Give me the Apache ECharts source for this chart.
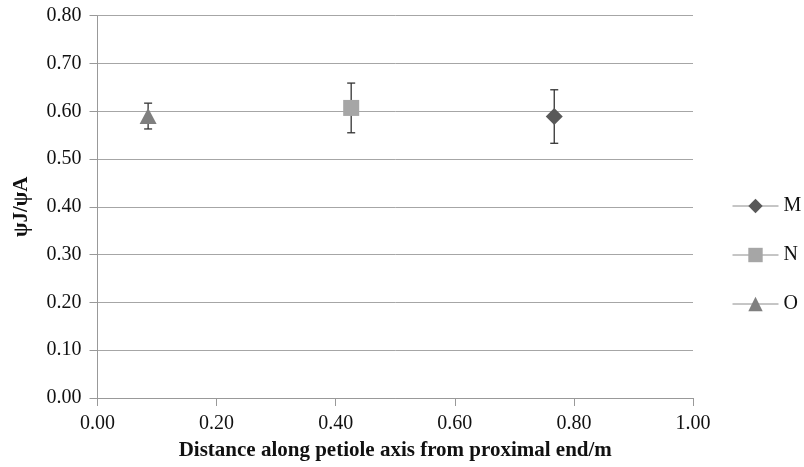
<!DOCTYPE html>
<html>
<head>
<meta charset="utf-8">
<script src="https://cdn.jsdelivr.net/npm/echarts@6/dist/echarts.min.js"></script>
<style>
  html, body { margin: 0; padding: 0; background: #fff; }
  #chart { width: 804px; height: 467px; }
</style>
</head>
<body>
<div id="chart"></div>
<script>
// series names, positions along petiole, ratio and error
var seriesNames = ['M', 'N', 'O'];
var xValues = [0.767, 0.426, 0.085];
var yValues = [0.589, 0.607, 0.590];
var yErrors = [0.056, 0.052, 0.027];
var symbols = ['diamond', 'rect', 'triangle'];
var colors = ['#595959', '#a6a6a6', '#7f7f7f'];
var symbolSizes = [[17, 17], [16, 16], [17, 16]];

var font = 'Liberation Serif';
var chart = echarts.init(document.getElementById('chart'));

// 误差线
function errorBar(value, err) {
    return {
        type: 'custom',
        silent: true,
        z: 1,
        data: [[value[0], value[1] - err, value[1] + err]],
        renderItem: function (params, api) {
            var lo = api.coord([api.value(0), api.value(1)]);
            var hi = api.coord([api.value(0), api.value(2)]);
            var w = 4;
            var st = { stroke: '#333', lineWidth: 1.3 };
            return {
                type: 'group',
                children: [
                    { type: 'line', shape: { x1: lo[0], y1: lo[1], x2: hi[0], y2: hi[1] }, style: st },
                    { type: 'line', shape: { x1: lo[0] - w, y1: lo[1], x2: lo[0] + w, y2: lo[1] }, style: st },
                    { type: 'line', shape: { x1: hi[0] - w, y1: hi[1], x2: hi[0] + w, y2: hi[1] }, style: st }
                ]
            };
        }
    };
}

var series = [];
seriesNames.forEach(function (name, i) {
    series.push({
        name: name,
        type: 'line',
        z: 3,
        data: [[xValues[i], yValues[i]]],
        symbol: symbols[i],
        symbolSize: symbolSizes[i],
        showSymbol: true,
        itemStyle: { color: colors[i] },
        lineStyle: { color: '#8c8c8c', width: 1 }
    });
    series.push(errorBar([xValues[i], yValues[i]], yErrors[i]));
});

chart.setOption({
    animation: false,
    backgroundColor: '#fff',
    textStyle: { fontFamily: font },
    grid: { left: 97.5, right: 111, top: 15.7, bottom: 69 },
    legend: {
        orient: 'vertical',
        left: 727,
        top: 191,
        itemWidth: 46,
        itemHeight: 18,
        itemGap: 29,
        data: seriesNames,
        lineStyle: { color: '#8c8c8c', width: 1 },
        textStyle: { fontFamily: font, fontSize: 20, color: '#111', padding: [0, 0, 0, 0] }
    },
    xAxis: {
        type: 'value',
        min: 0,
        max: 1,
        interval: 0.2,
        name: 'Distance along petiole axis from proximal end/m',
        nameLocation: 'middle',
        nameGap: 42,
        nameTextStyle: { fontFamily: font, fontSize: 21, fontWeight: 'bold', color: '#111' },
        axisLine: { lineStyle: { color: '#999' } },
        axisTick: { show: true, length: 8, lineStyle: { color: '#999' } },
        axisLabel: { fontFamily: font, fontSize: 20, color: '#111', margin: 16,
            formatter: function (v) { return v.toFixed(2); } },
        splitLine: { show: false }
    },
    yAxis: {
        type: 'value',
        min: 0,
        max: 0.8,
        interval: 0.1,
        name: 'ψJ/ψA',
        nameLocation: 'middle',
        nameGap: 65,
        nameTextStyle: { fontFamily: font, fontSize: 21, fontWeight: 'bold', color: '#111' },
        axisLine: { show: true, lineStyle: { color: '#999' } },
        axisTick: { show: true, length: 8, lineStyle: { color: '#999' } },
        axisLabel: { fontFamily: font, fontSize: 20, color: '#111', margin: 16,
            formatter: function (v) { return v.toFixed(2); } },
        splitLine: { show: true, lineStyle: { color: '#a6a6a6', width: 1 } }
    },
    series: series
});
</script>
</body>
</html>
